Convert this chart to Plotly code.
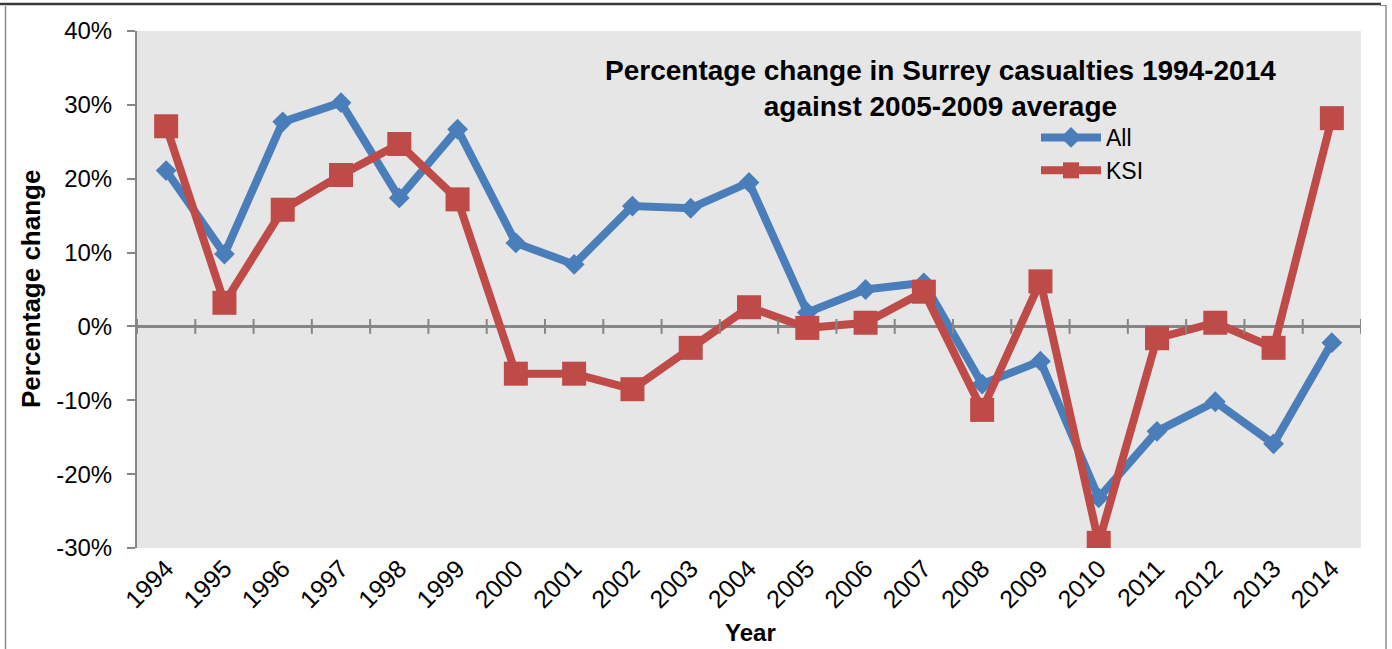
import plotly.graph_objects as go

# Surrey casualties, percentage change against the 2005-2009 average
years = [str(y) for y in range(1994, 2015)]
all_casualties = [21.1, 9.8, 27.7, 30.3, 17.4, 26.7, 11.3, 8.4, 16.3, 16.0, 19.5,
                  1.9, 5.0, 5.9, -7.8, -4.7, -23.2, -14.2, -10.2, -15.9, -2.2]
ksi = [27.1, 3.2, 15.8, 20.5, 24.7, 17.2, -6.4, -6.4, -8.5, -2.9, 2.6,
       -0.2, 0.5, 4.7, -11.3, 6.1, -29.3, -1.6, 0.5, -2.9, 28.2]
y_ticks = [-30, -20, -10, 0, 10, 20, 30, 40]
y_tick_text = [f"{v}%" for v in y_ticks]

FONT = "Liberation Sans, Arial, sans-serif"
BLUE = "#4a7ebb"
RED = "#be4b48"
AXIS = "#868686"

W, H = 1392, 649
L, R, T, B = 137, 31, 31, 101
pw, ph = W - L - R, H - T - B


def px(x):
    return (x - L) / pw


def py(y):
    return (H - B - y) / ph


fig = go.Figure()
fig.add_trace(go.Scatter(
    x=years, y=all_casualties, name="All", mode="lines+markers",
    line=dict(color=BLUE, width=8),
    marker=dict(symbol="diamond", size=16, color=BLUE),
))
fig.add_trace(go.Scatter(
    x=years, y=ksi, name="KSI", mode="lines+markers",
    line=dict(color=RED, width=8),
    marker=dict(symbol="square", size=24, color=RED),
))

shapes = []
# tick marks crossing the zero line, between year categories
for i in range(len(years) + 1):
    shapes.append(dict(type="line", xref="x", yref="y", x0=i - 0.5, x1=i - 0.5,
                       y0=-1, y1=1, line=dict(color=AXIS, width=2), layer="above"))
# outer frame
shapes.append(dict(type="line", xref="paper", yref="paper", x0=px(0), x1=px(1381),
                   y0=py(4), y1=py(4), line=dict(color="#3a3a3a", width=2.5)))
shapes.append(dict(type="line", xref="paper", yref="paper", x0=px(5.5), x1=px(5.5),
                   y0=py(6), y1=py(650), line=dict(color="#8c8c8c", width=1.5)))
shapes.append(dict(type="line", xref="paper", yref="paper", x0=px(1386), x1=px(1386),
                   y0=py(5), y1=py(650), line=dict(color="#8c8c8c", width=1.5)))
shapes.append(dict(type="line", xref="paper", yref="paper", x0=px(1380), x1=px(1386),
                   y0=py(5.5), y1=py(5.5), line=dict(color="#8c8c8c", width=1)))

annotations = [
    dict(text="<b>Percentage change in Surrey casualties 1994-2014<br>against 2005-2009 average</b>",
         xref="paper", yref="paper", x=px(940), y=py(88), xanchor="center", yanchor="middle",
         showarrow=False, font=dict(family=FONT, size=28, color="black")),
    dict(text="<b>Percentage change</b>", textangle=-90,
         xref="paper", yref="paper", x=px(31), y=py(289), xanchor="center", yanchor="middle",
         showarrow=False, font=dict(family=FONT, size=26, color="black")),
    dict(text="<b>Year</b>",
         xref="paper", yref="paper", x=px(750), y=py(632), xanchor="center", yanchor="middle",
         showarrow=False, font=dict(family=FONT, size=24, color="black")),
]

fig.update_layout(
    width=W, height=H,
    margin=dict(l=L, r=R, t=T, b=B),
    paper_bgcolor="white", plot_bgcolor="#e6e6e6",
    font=dict(family=FONT, size=23, color="black"),
    shapes=shapes, annotations=annotations,
    legend=dict(x=px(1036), y=py(116), xanchor="left", yanchor="top",
                bgcolor="rgba(0,0,0,0)", font=dict(family=FONT, size=23),
                tracegroupgap=0, itemsizing="trace", itemwidth=60),
    xaxis=dict(type="category", showgrid=False, showline=False, ticks="",
               tickangle=-45, tickfont=dict(size=25), range=[-0.5, 20.5],
               zeroline=False),
    yaxis=dict(range=[-30, 40], tickmode="array", tickvals=y_ticks, ticktext=y_tick_text,
               showgrid=False, showline=True, linecolor=AXIS, linewidth=2,
               ticks="outside", ticklen=8, tickcolor=AXIS, tickwidth=2,
               tickfont=dict(size=24), ticklabelstandoff=10,
               zeroline=True, zerolinecolor=AXIS, zerolinewidth=2.5),
)

fig.write_html("out.html")
